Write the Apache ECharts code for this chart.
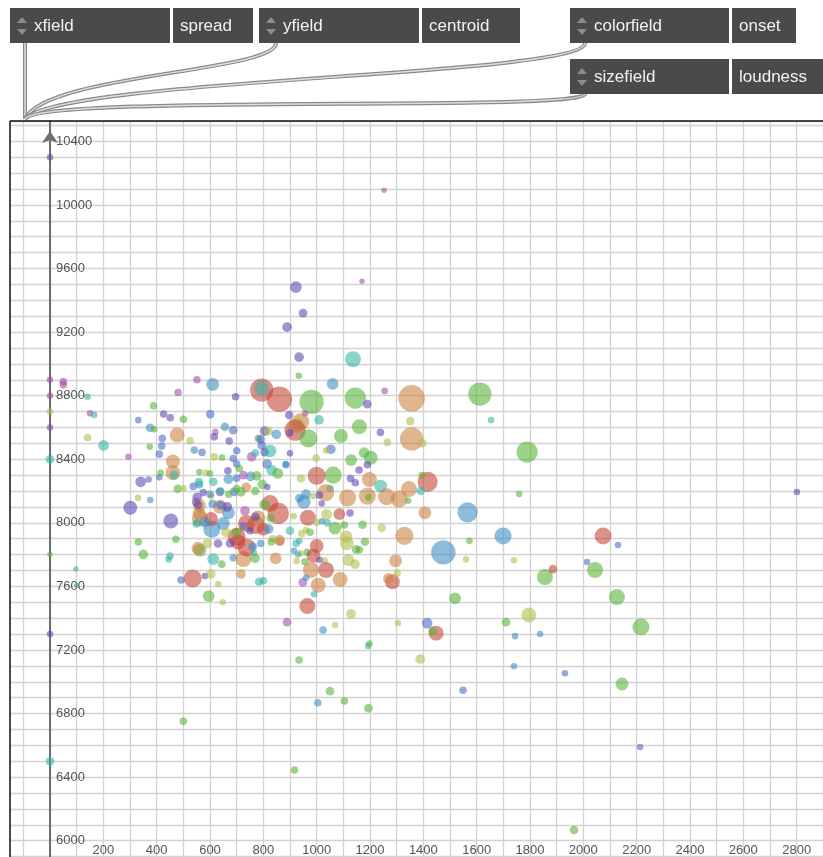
<!DOCTYPE html>
<html>
<head>
<meta charset="utf-8">
<script src="https://cdn.jsdelivr.net/npm/echarts@6/dist/echarts.min.js"></script>
<style>
html, body { margin: 0; padding: 0; background: #fff; }
#scatter-pic { width: 823px; height: 857px; }
</style>
</head>
<body>
<div id="scatter-pic"></div>
<script>
// one entry per sound: spread (x), centroid (y), onset (colour), loudness (size)
const spread = [
  0, 0, 0, 0, 0, 0, 0, 0, 0, 50,
  50, 141, 150, 166, 141, 201, 97, 100, 294, 331,
  388, 375, 390, 426, 451, 500, 551, 480, 610, 696,
  601, 656, 687, 620, 616, 672, 700, 687, 421, 419,
  410, 374, 477, 461, 461, 465, 541, 570, 616, 645,
  340, 370, 410, 415, 301, 330, 376, 453, 479, 501,
  560, 585, 600, 537, 560, 612, 552, 548, 575, 605,
  559, 560, 548, 600, 637, 607, 637, 669, 690, 794,
  794, 860, 525, 667, 700, 710, 725, 756, 770, 781,
  790, 805, 820, 849, 794, 805, 825, 814, 831, 854,
  885, 558, 669, 700, 752, 775, 796, 815, 736, 700,
  670, 716, 770, 640, 933, 1060, 1255, 981, 1145, 1356,
  1190, 897, 956, 940, 925, 919, 1009, 969, 900, 1160,
  1091, 1239, 1351, 1356, 1265, 1397, 1053, 1035, 900, 884,
  998, 1129, 1178, 1203, 1190, 1159, 941, 1000, 1062, 1127,
  1145, 1198, 1240, 1346, 1416, 1394, 1390, 1050, 1034, 960,
  1010, 1116, 1190, 1262, 1309, 1612, 952, 935, 987, 1019,
  1194, 1343, 856, 914, 967, 1037, 1085, 1125, 1406, 1566,
  1000, 1020, 1040, 1069, 1104, 1172, 1244, 900, 944, 960,
  975, 862, 1110, 1113, 1181, 1329, 923, 935, 915, 1000,
  940, 930, 965, 988, 1148, 1160, 925, 956, 1012, 1030,
  1119, 1144, 1296, 978, 1035, 1088, 1006, 948, 960, 1284,
  1269, 1302, 1475, 1573, 1519, 990, 965, 1129, 331, 350,
  472, 450, 445, 491, 535, 581, 603, 631, 595, 648,
  716, 784, 800, 562, 604, 562, 555, 612, 644, 687,
  725, 700, 705, 737, 760, 769, 765, 800, 820, 828,
  825, 805, 861, 846, 835, 830, 790, 737, 772, 780,
  725, 750, 771, 731, 665, 556, 640, 610, 650, 550,
  580, 660, 700, 675, 630, 590, 1253, 1170, 922, 949,
  889, 934, 1136, 1654, 1789, 1759, 2801, 1699, 1856, 1886,
  1740, 1560, 2074, 2014, 2130, 2044, 2126, 2216, 1710, 1744,
  1838, 1796, 1414, 1448, 1435, 1388, 1549, 1740, 1931, 2145,
  2213, 1965, 500, 917, 1004, 1104, 1194, 1050, 934, 1024,
  1069, 1193, 1198, 889, 1305
]
const centroid = [
  10300, 8900, 8800, 8700, 8600, 8400, 7800, 7300, 6500, 8888,
  8868, 8793, 8689, 8679, 8537, 8487, 7709, 7607, 8415, 8646,
  8736, 8598, 8588, 8684, 8661, 8652, 8900, 8820, 8871, 8793,
  8684, 8604, 8583, 8571, 8541, 8514, 8453, 8405, 8531, 8483,
  8432, 8478, 8552, 8386, 8315, 8300, 8458, 8443, 8415, 8411,
  8258, 8273, 8286, 8315, 8095, 8157, 8143, 8011, 8214, 8218,
  8319, 8315, 8310, 8229, 8240, 8258, 8160, 8130, 8190, 8170,
  8059, 8110, 8000, 8180, 8195, 7959, 8101, 8063, 8195, 8835,
  8846, 8777, 8516, 8327, 8370, 8342, 8300, 8415, 8440, 8531,
  8525, 8577, 8577, 8556, 8487, 8445, 8453, 8370, 8332, 8311,
  8365, 8256, 8273, 8280, 8292, 8295, 8242, 8225, 8223, 8215,
  8180, 8195, 8200, 8200, 8925, 8874, 8830, 8761, 8785, 8783,
  8747, 8678, 8688, 8635, 8615, 8583, 8648, 8531, 8566, 8604,
  8546, 8569, 8640, 8528, 8506, 8501, 8462, 8455, 8437, 8368,
  8407, 8395, 8441, 8409, 8365, 8332, 8279, 8296, 8300, 8279,
  8252, 8273, 8231, 8212, 8258, 8300, 8200, 8216, 8189, 8180,
  8174, 8157, 8168, 8164, 8150, 8810, 8132, 8155, 8168, 8122,
  8160, 8139, 8059, 8042, 8032, 8053, 8055, 8061, 8063, 8066,
  8003, 8010, 8000, 7967, 7986, 7988, 7969, 7950, 7933, 7955,
  7940, 7881, 7912, 7871, 7881, 7918, 7870, 7885, 7824, 7854,
  7810, 7800, 7815, 7793, 7833, 7830, 7760, 7755, 7766, 7763,
  7766, 7740, 7761, 7703, 7703, 7644, 7608, 7625, 7655, 7629,
  7650, 7682, 7814, 7887, 7525, 7550, 7476, 7428, 7879, 7801,
  7896, 7791, 7770, 7640, 7650, 7665, 7678, 7615, 7539, 7500,
  7678, 7629, 7635, 8028, 8024, 7828, 7840, 7772, 7740, 7780,
  7772, 7912, 7880, 7845, 7850, 7776, 7810, 7960, 7960, 8030,
  8122, 8115, 7891, 7776, 7900, 7880, 7870, 7996, 7986, 8030,
  7980, 7950, 8038, 8076, 8100, 8112, 8110, 8120, 7996, 7996,
  8005, 7940, 7940, 7871, 7870, 7870, 10093, 9520, 9483, 9319,
  9231, 9042, 9029, 8646, 8445, 8181, 8194, 7917, 7659, 7709,
  7765, 7770, 7917, 7753, 7860, 7703, 7533, 7344, 7375, 7287,
  7300, 7420, 7369, 7306, 7320, 7142, 6947, 7098, 7054, 6986,
  6589, 6067, 6751, 6445, 6868, 6879, 6833, 6941, 7137, 7325,
  7357, 7225, 7240, 7375, 7370
]
const onset = [
  1, 0, 0, 6, 0.5, 4, 5, 1, 4, 0,
  0, 4, 0, 4, 6, 4, 4, 4, 0, 2,
  5, 3, 5, 1, 1, 5, 0, 0, 3, 1,
  2, 3, 2, 0, 1, 1, 2, 2, 2, 2,
  2, 5, 7, 7, 7, 4, 3, 2, 6, 5,
  1, 2, 2, 5, 1, 6, 3, 1, 5, 6,
  5, 6, 5, 2, 3, 4, 1, 1, 1, 6,
  7, 7, 4, 3, 1, 3, 7, 3, 2, 8,
  4, 8, 6, 1, 2, 5, 0, 0, 4, 5,
  2, 1, 6, 3, 2, 1, 4, 2, 4, 5,
  3, 4, 3, 2, 3, 5, 5, 1, 7, 5,
  5, 5, 5, 4, 5, 3, 0, 5, 5, 7,
  1, 1, 0, 7, 6, 8, 4, 5, 1, 5,
  5, 1, 6, 7, 6, 6, 2, 6, 1, 3,
  6, 5, 5, 5, 1, 1, 6, 8, 5, 1,
  1, 7, 4, 7, 8, 5, 4, 4, 7, 3,
  1, 7, 7, 7, 7, 5, 3, 3, 6, 1,
  5, 5, 8, 6, 8, 6, 8, 1, 7, 3,
  6, 3, 4, 5, 5, 5, 6, 4, 6, 6,
  5, 7, 6, 6, 5, 7, 4, 4, 3, 8,
  6, 4, 5, 8, 5, 5, 6, 5, 1, 6,
  6, 6, 7, 7, 8, 7, 7, 0, 3, 8,
  7, 6, 3, 5, 5, 4, 8, 6, 5, 5,
  5, 4, 4, 2, 8, 1, 6, 6, 5, 6,
  7, 4, 4, 7, 8, 5, 7, 4, 5, 3,
  7, 8, 8, 8, 3, 5, 4, 8, 3, 5,
  8, 5, 7, 7, 6, 5, 3, 8, 8, 7,
  2, 1, 1, 0, 1, 1, 2, 3, 3, 4,
  3, 6, 5, 1, 1, 6, 0, 0, 1, 1,
  1, 1, 4, 4, 5, 5, 1, 3, 5, 8,
  6, 6, 8, 2, 2, 5, 5, 5, 5, 3,
  3, 6, 2, 8, 5, 6, 2, 3, 2, 5,
  2, 5, 5, 5, 3, 5, 5, 5, 5, 3,
  6, 4, 5, 0, 6
]
const loudness = [
  6, 6, 6, 6, 6, 8, 5, 6, 8, 7,
  7, 6, 6, 6, 7, 10, 5, 5, 6, 6,
  7, 8, 6, 7, 7, 7, 7, 7, 12, 7,
  8, 8, 8, 6, 7, 7, 7, 7, 7, 7,
  7, 6, 14, 13, 14, 8, 7, 7, 7, 6,
  10, 6, 6, 6, 13, 6, 6, 14, 8, 6,
  6, 6, 6, 7, 7, 8, 9, 8, 7, 6,
  12, 12, 6, 7, 8, 16, 13, 12, 8, 22,
  14, 24, 7, 7, 7, 7, 8, 9, 7, 7,
  8, 9, 8, 9, 8, 8, 12, 9, 10, 10,
  7, 8, 9, 7, 9, 9, 9, 6, 9, 7,
  7, 9, 8, 7, 6, 11, 6, 23, 20, 25,
  8, 8, 6, 16, 15, 20, 9, 17, 7, 14,
  13, 7, 8, 22, 7, 8, 9, 6, 6, 6,
  7, 11, 10, 13, 7, 7, 8, 17, 16, 7,
  7, 14, 12, 15, 19, 6, 8, 7, 16, 9,
  7, 16, 16, 16, 16, 22, 13, 8, 6, 6,
  6, 6, 20, 6, 15, 10, 11, 7, 12, 19,
  7, 6, 7, 12, 7, 8, 8, 8, 7, 6,
  7, 8, 12, 13, 8, 17, 7, 6, 6, 13,
  6, 6, 7, 13, 8, 7, 6, 7, 6, 6,
  11, 9, 12, 15, 15, 14, 14, 8, 6, 14,
  10, 7, 23, 6, 11, 6, 15, 9, 7, 9,
  7, 7, 6, 7, 17, 6, 9, 6, 11, 6,
  9, 8, 7, 15, 13, 12, 12, 11, 7, 7,
  15, 17, 14, 17, 8, 9, 6, 12, 9, 8,
  16, 10, 10, 11, 7, 7, 7, 16, 17, 14,
  7, 7, 8, 9, 9, 8, 8, 8, 12, 8,
  10, 9, 9, 8, 8, 9, 5, 5, 11, 8,
  9, 9, 15, 6, 20, 6, 6, 16, 15, 8,
  6, 6, 16, 6, 6, 15, 15, 16, 8, 6,
  6, 14, 10, 14, 8, 9, 7, 6, 6, 12,
  6, 8, 7, 7, 7, 7, 8, 8, 7, 7,
  6, 6, 6, 8, 6
]
const xTickLabels = [200, 400, 600, 800, 1000, 1200, 1400, 1600, 1800, 2000, 2200, 2400, 2600, 2800]
const yTickLabels = [6000, 6400, 6800, 7200, 7600, 8000, 8400, 8800, 9200, 9600, 10000, 10400]
const fields = [
  ['xfield', 'spread'],
  ['yfield', 'centroid'],
  ['colorfield', 'onset'],
  ['sizefield', 'loudness']
]
const onsetColors = ['#a54aa8', '#5f45b4', '#4a6ac8', '#3a8cc2', '#33b4a6', '#55b236', '#b2bc4a', '#c98040', '#c44434']

const FONT = '"Liberation Sans", Arial, sans-serif'

// dropdown boxes + patch cables on top
function fieldBox (x, y, w1, w2, label, value) {
  return [
    { type: 'rect', shape: { x: x, y: y, width: w1, height: 35 }, style: { fill: '#4a4a4a' } },
    { type: 'rect', shape: { x: x + w1 + 3, y: y, width: w2, height: 35 }, style: { fill: '#4a4a4a' } },
    { type: 'polygon', shape: { points: [[x + 7, y + 15], [x + 17, y + 15], [x + 12, y + 9]] }, style: { fill: '#8c8c8c' } },
    { type: 'polygon', shape: { points: [[x + 7, y + 21], [x + 17, y + 21], [x + 12, y + 27]] }, style: { fill: '#8c8c8c' } },
    { type: 'text', x: x + 24, y: y + 18, style: { text: label, fill: '#f2f2f2', font: '17px ' + FONT, verticalAlign: 'middle' } },
    { type: 'text', x: x + w1 + 10, y: y + 18, style: { text: value, fill: '#f2f2f2', font: '17px ' + FONT, verticalAlign: 'middle' } }
  ]
}

function cable (x1, y1, cx1, cy1, cx2, cy2, x2, y2) {
  const shape = { x1: x1, y1: y1, cpx1: cx1, cpy1: cy1, cpx2: cx2, cpy2: cy2, x2: x2, y2: y2 }
  return [
    { type: 'bezierCurve', shape: shape, style: { stroke: '#8a8a8a', lineWidth: 4, fill: null } },
    { type: 'bezierCurve', shape: shape, style: { stroke: '#dedede', lineWidth: 1.5, fill: null } }
  ]
}

function initOption () {
  const data = spread.map((x, i) => [x, centroid[i], onset[i], loudness[i]])
  const graphics = [].concat(
    // hide grid lines left of the frame
    [{ type: 'rect', shape: { x: 0, y: 119, width: 10, height: 740 }, style: { fill: '#fff' } }],
    [{ type: 'line', shape: { x1: 10, y1: 121, x2: 823, y2: 121 }, style: { stroke: '#111', lineWidth: 1.5 } }],
    [{ type: 'line', shape: { x1: 10, y1: 121, x2: 10, y2: 857 }, style: { stroke: '#111', lineWidth: 1.5 } }],
    cable(25, 43, 25, 70, 25, 90, 25, 119),
    cable(276, 43, 276, 72, 45, 74, 25, 119),
    cable(585, 43, 585, 76, 60, 78, 25, 119),
    cable(585, 94, 585, 112, 40, 94, 25, 119),
    fieldBox(10, 8, 160, 80, fields[0][0], fields[0][1]),
    fieldBox(259, 8, 160, 98, fields[1][0], fields[1][1]),
    fieldBox(570, 8, 159, 64, fields[2][0], fields[2][1]),
    fieldBox(570, 59, 159, 91, fields[3][0], fields[3][1])
  )
  return {
    animation: false,
    grid: { left: -3.33, top: 121, width: 853.33, height: 751.5, containLabel: false, outerBoundsMode: 'none' },
    xAxis: {
      type: 'value',
      min: -200,
      max: 3000,
      interval: 100,
      axisLine: { show: false, onZero: false },
      axisTick: { show: false },
      axisLabel: {
        inside: true,
        margin: 16,
        color: '#555',
        fontSize: 13,
        fontFamily: FONT,
        formatter: v => xTickLabels.indexOf(v) >= 0 ? String(v) : ''
      },
      splitLine: { lineStyle: { color: '#d2d2d2', width: 1.3 } }
    },
    yAxis: {
      type: 'value',
      min: 5800,
      max: 10528,
      interval: 100,
      // move the axis from the grid edge to spread = 0
      offset: -53.33,
      axisLine: {
        show: true,
        onZero: false,
        symbol: ['none', 'arrow'],
        symbolSize: [12, 12],
        symbolOffset: [0, -10],
        lineStyle: { color: '#6e6e6e', width: 2 }
      },
      axisTick: { show: false },
      axisLabel: {
        inside: true,
        margin: 6,
        color: '#555',
        fontSize: 13,
        fontFamily: FONT,
        formatter: v => yTickLabels.indexOf(v) >= 0 ? String(v) : ''
      },
      splitLine: { lineStyle: { color: '#d2d2d2', width: 1.3 } }
    },
    visualMap: [
      { show: false, type: 'continuous', dimension: 2, min: 0, max: 8, inRange: { color: onsetColors } },
      { show: false, type: 'continuous', dimension: 3, min: 5, max: 25, inRange: { symbolSize: [5.5, 26.5] } }
    ],
    series: [{
      type: 'scatter',
      data: data,
      itemStyle: { opacity: 0.58 }
    }],
    graphic: { elements: graphics.map(g => Object.assign({ z: 100 }, g)) }
  }
}

const myChart = echarts.init(document.getElementById('scatter-pic'))
myChart.setOption(initOption())
</script>
</body>
</html>
